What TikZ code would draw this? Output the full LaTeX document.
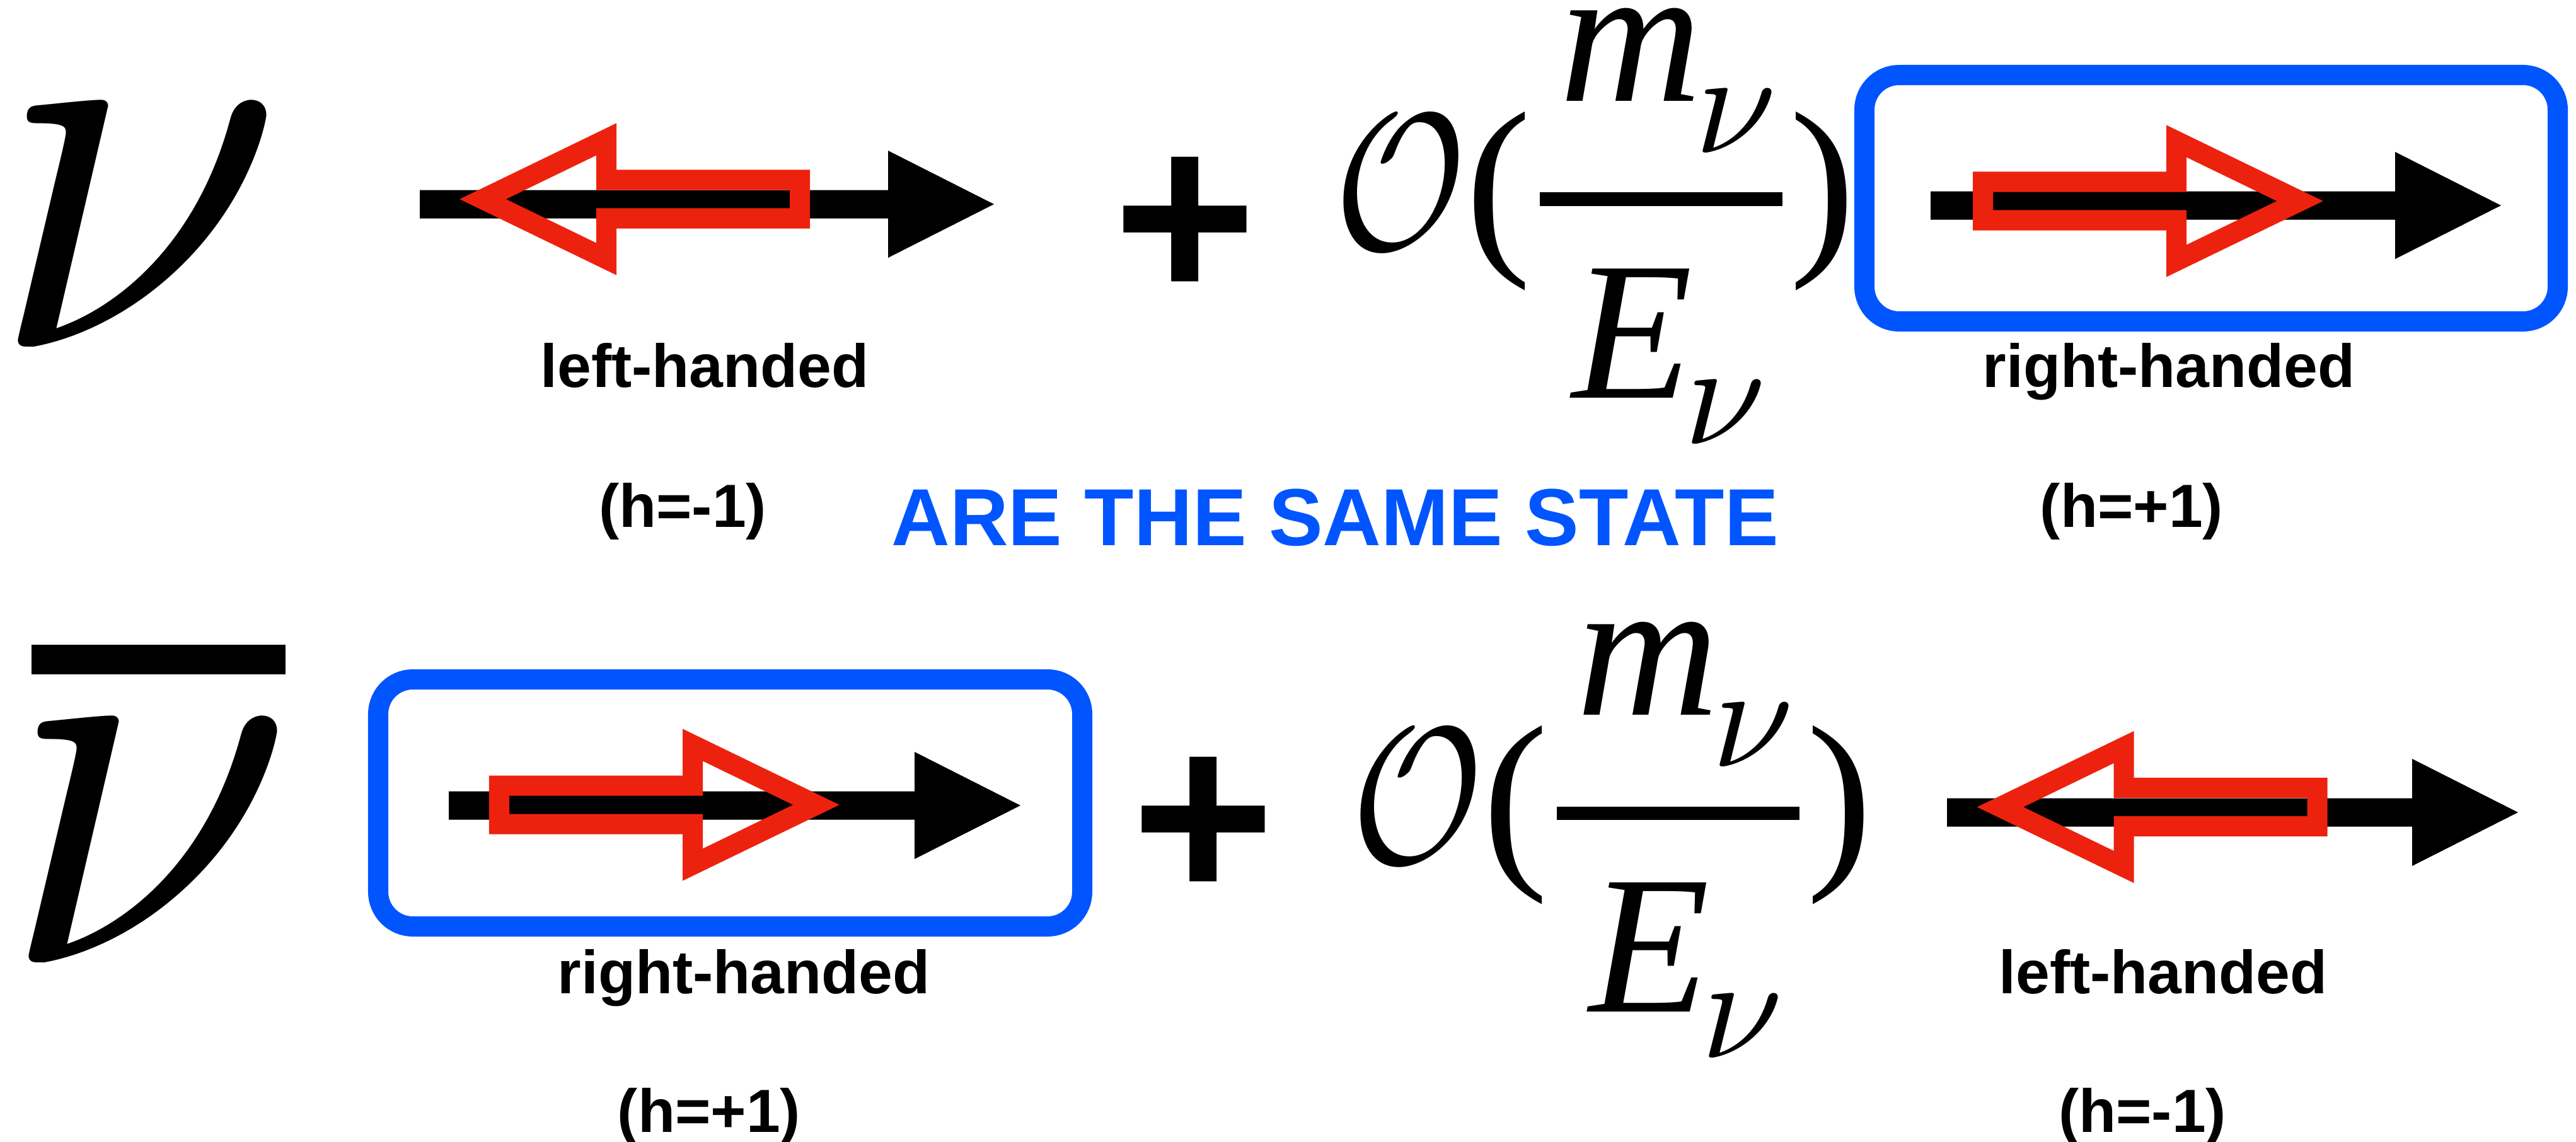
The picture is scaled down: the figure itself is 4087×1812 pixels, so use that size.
\documentclass[tikz,border=0pt]{standalone}
\usepackage{fontspec}
\usepackage{graphicx}
\setmainfont{Liberation Serif}
\newfontfamily\lblfont{Liberation Sans}
\usetikzlibrary{positioning}

\definecolor{spinred}{RGB}{237,34,14}
\definecolor{stateblue}{RGB}{0,85,255}

% momentum: black arrow, start x, tip x, centre y
\newcommand{\momarrow}[3]{%
  \fill[black] (#1,#3-22.5) -- (#2-168,#3-22.5) -- (#2-168,#3-85) -- (#2,#3)
    -- (#2-168,#3+85) -- (#2-168,#3+22.5) -- (#1,#3+22.5) -- cycle;}
% spin: open red arrow, tip x, centre y, direction (1 right, -1 left)
\newcommand{\spinarrow}[3]{%
  \draw[spinline] (#1,#2) -- ({#1-#3*196},{#2-95}) -- ({#1-#3*196},{#2-30.5})
    -- ({#1-#3*503},{#2-30.5}) -- ({#1-#3*503},{#2+30.5}) -- ({#1-#3*196},{#2+30.5})
    -- ({#1-#3*196},{#2+95}) -- cycle;}
\newcommand{\bignu}{\scalebox{23.8}[25.2]{\normalsize$\nu$}}
\newcommand{\subnu}{\scalebox{6.6}{\normalsize$\nu$}}

\begin{document}
\begin{tikzpicture}[
  x=0.01cm, y=-0.01cm,
  every node/.style={inner sep=0pt, outer sep=0pt},
  lbl/.style={anchor=base, font=\lblfont\bfseries\fontsize{27.5}{33}\selectfont},
  same/.style={anchor=base, text=stateblue, font=\lblfont\bfseries\fontsize{36.5}{44}\selectfont},
  nu/.style={anchor=base},
  op/.style={anchor=base, font=\lblfont\bfseries\fontsize{110.7}{130}\selectfont},
  frac/.style={anchor=base west, text height=0.67em, font=\itshape\fontsize{89}{105}\selectfont},
  paren/.style={anchor=base, font=\fontsize{89}{105}\selectfont},
  fracbar/.style={line width=0.21cm},
  spinline/.style={draw=spinred, line width=0.32cm, miter limit=10},
  statebox/.style={draw=stateblue, line width=0.32cm, rounded corners=0.55cm},
]
  \useasboundingbox (0,0) rectangle (4087,1812);
  \fill[white] (0,0) rectangle (4087,1812);

  % neutrino row
  \node[nu] (nuT) at (218,550) {\bignu};
  \momarrow{666}{1577}{324}
  \spinarrow{766}{316}{-1}
  \node[lbl] (lhT) at (1118,614) {left-handed};
  \node[lbl] (hT1) at (1083,836) {(h=-1)};

  \node[op] (plusT) at (1880,477) {+};
  \node (OT) at (2222,290) {\scalebox{7.2}[8.8]{$\mathcal{O}$}};
  \node[paren] (lpT) at (2378,394) {(};
  \node[frac, text height=0.47em] (mT) at (2474,160) {m\kern-0.11cm\raisebox{-0.82cm}{\subnu}};
  \draw[fracbar] (2443,316) -- (2828,316);
  \node[frac] (ET) at (2494.5,631) {E\kern-0.135cm\raisebox{-0.73cm}{\subnu}};
  \node[paren] (rpT) at (2892,394) {)};

  \draw[statebox] (2958,119) rectangle (4058,510);
  \momarrow{3063}{3968}{326}
  \spinarrow{3649}{319}{1}
  \node[lbl] (rhT) at (3441,614) {right-handed};
  \node[lbl] (hT2) at (3382,836) {(h=+1)};

  \node[same] (same) at (2118,865) {ARE THE SAME STATE};

  % antineutrino row
  \fill (50,1023) rectangle (453,1070);
  \node[nu] (nuB) at (235,1527) {\bignu};
  \draw[statebox] (600,1078) rectangle (1717,1470);
  \momarrow{712}{1619}{1278}
  \spinarrow{1295}{1277}{1}
  \node[lbl] (rhB) at (1180,1576) {right-handed};
  \node[lbl] (hB1) at (1125,1796) {(h=+1)};

  \node[op] (plusB) at (1909,1429) {+};
  \node (OB) at (2249,1264) {\scalebox{7.2}[8.8]{$\mathcal{O}$}};
  \node[paren] (lpB) at (2405,1368) {(};
  \node[frac, text height=0.47em] (mB) at (2501,1134) {m\kern-0.11cm\raisebox{-0.82cm}{\subnu}};
  \draw[fracbar] (2470,1290) -- (2855,1290);
  \node[frac] (EB) at (2521.5,1605) {E\kern-0.135cm\raisebox{-0.73cm}{\subnu}};
  \node[paren] (rpB) at (2919,1368) {)};

  \momarrow{3089}{3995}{1289}
  \spinarrow{3173.5}{1280.5}{-1}
  \node[lbl] (lhB) at (3432,1576) {left-handed};
  \node[lbl] (hB2) at (3399,1796) {(h=-1)};
\end{tikzpicture}
\end{document}
